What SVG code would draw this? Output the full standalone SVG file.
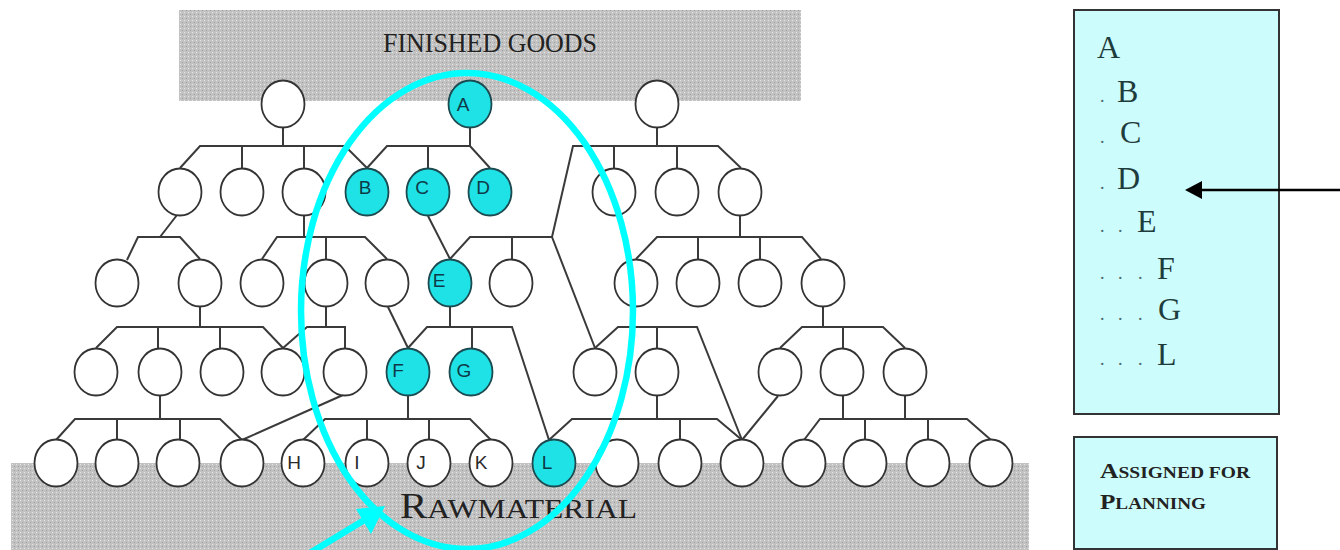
<svg xmlns="http://www.w3.org/2000/svg" width="1340" height="550" viewBox="0 0 1340 550">
<defs>
<pattern id="dots" width="4" height="4" patternUnits="userSpaceOnUse"><rect width="4" height="4" fill="#c2c2c2"/><rect width="1" height="1" fill="#e6e6e6"/><rect x="2" y="2" width="1" height="1" fill="#9c9c9c"/></pattern>
<style>
.n{fill:#fff;stroke:#333;stroke-width:1.8}
.h{fill:#1ee2e6;stroke:#1b4b50;stroke-width:1.8}
.lb{font-family:"Liberation Sans",Arial,sans-serif;font-size:19px;fill:#0e3a48;text-anchor:middle}
.lw{font-family:"Liberation Sans",Arial,sans-serif;font-size:19px;fill:#2a2a2a;text-anchor:middle}
.c{fill:none;stroke:#3a3a3a;stroke-width:2;stroke-linejoin:miter}
.ser{font-family:"Liberation Serif","Times New Roman",serif;fill:#222}
.lst{font-family:"Liberation Serif","Times New Roman",serif;font-size:32px;fill:#1f3c3c}
.dot{font-family:"Liberation Serif",serif;font-size:18px;fill:#4a6a6a}
</style>
</defs>
<rect width="1340" height="550" fill="#fff"/>
<g id="finished-goods">
<rect x="179" y="10" width="622" height="91" fill="url(#dots)"/>
<text class="ser" x="383" y="52" font-size="28" textLength="214" lengthAdjust="spacingAndGlyphs">FINISHED GOODS</text>
</g>
<g id="raw-material">
<rect x="11" y="463" width="1018" height="87" fill="url(#dots)"/>
<text class="ser" x="400" y="518" font-size="27" textLength="237" lengthAdjust="spacingAndGlyphs"><tspan font-size="35">R</tspan>AWMATERIAL</text>
</g>
<g id="connectors" class="c">
<path d="M283,128V146M180,168L200,146H345L367,168M242,146V168M304,146V168"/>
<path d="M470,128V146M367,168L387,146H470L490,168M428,146V168"/>
<path d="M657,128V146M741,168L718,146H573L552,237L595,348M614,146V168M677,146V168"/>
<path d="M177,215L160,237M127,260L138,237H180L200,259"/>
<path d="M304,216V237M262,259L277,237H365L387,259M326,237V259"/>
<path d="M428,216L450,259M450,259L470,237H552M512,237V259"/>
<path d="M740,216V237M636,259L657,237H802L821,259M698,237V259M760,237V259"/>
<path d="M200,307V327M96,348L117,327H263L283,348M158,327V348M220,327V348"/>
<path d="M326,307V327M283,348L307,327H345V348"/>
<path d="M388,307L408,348"/>
<path d="M450,307V327M408,348L427,327H512L549,440M472,327V348"/>
<path d="M595,348L618,327H697L742,440M657,327V348"/>
<path d="M823,307V327M780,348L802,327H883L905,348M843,327V348"/>
<path d="M160,396V419M56,440L75,419H220L242,440M117,419V440M180,419V440"/>
<path d="M343,395L242,440"/>
<path d="M408,396V419M303,440L325,419H470L491,440M367,419V440M429,419V440"/>
<path d="M549,440L572,419H717L742,440M657,396V419M680,419V440"/>
<path d="M778,396L742,440"/>
<path d="M843,396V419M905,396V419M804,440L820,419H967L991,440M865,419V440M928,419V440"/>
</g>
<g id="nodes">
<g id="n1a"><ellipse class="n" cx="283" cy="104" rx="21.5" ry="23.5"/></g>
<g id="nA"><ellipse class="h" cx="470" cy="104" rx="21.5" ry="23.5"/><text class="lb" x="463" y="111">A</text></g>
<g id="n1c"><ellipse class="n" cx="657" cy="104" rx="21.5" ry="23.5"/></g>

<g id="n2a"><ellipse class="n" cx="180" cy="192" rx="21.5" ry="23.5"/></g>
<g id="n2b"><ellipse class="n" cx="242" cy="192" rx="21.5" ry="23.5"/></g>
<g id="n2c"><ellipse class="n" cx="304" cy="192" rx="21.5" ry="23.5"/></g>
<g id="nB"><ellipse class="h" cx="367" cy="192" rx="21.5" ry="23.5"/><text class="lb" x="365" y="194">B</text></g>
<g id="nC"><ellipse class="h" cx="428" cy="192" rx="21.5" ry="23.5"/><text class="lb" x="422" y="194">C</text></g>
<g id="nD"><ellipse class="h" cx="490" cy="192" rx="21.5" ry="23.5"/><text class="lb" x="483" y="194">D</text></g>
<g id="n2g"><ellipse class="n" cx="614" cy="192" rx="21.5" ry="23.5"/></g>
<g id="n2h"><ellipse class="n" cx="677" cy="192" rx="21.5" ry="23.5"/></g>
<g id="n2i"><ellipse class="n" cx="740" cy="192" rx="21.5" ry="23.5"/></g>

<g id="n3a"><ellipse class="n" cx="117" cy="283" rx="21.5" ry="23.5"/></g>
<g id="n3b"><ellipse class="n" cx="200" cy="283" rx="21.5" ry="23.5"/></g>
<g id="n3c"><ellipse class="n" cx="262" cy="283" rx="21.5" ry="23.5"/></g>
<g id="n3d"><ellipse class="n" cx="326" cy="283" rx="21.5" ry="23.5"/></g>
<g id="n3e"><ellipse class="n" cx="387" cy="283" rx="21.5" ry="23.5"/></g>
<g id="nE"><ellipse class="h" cx="450" cy="283" rx="21.5" ry="23.5"/><text class="lb" x="439" y="287">E</text></g>
<g id="n3g"><ellipse class="n" cx="511" cy="283" rx="21.5" ry="23.5"/></g>
<g id="n3h"><ellipse class="n" cx="636" cy="283" rx="21.5" ry="23.5"/></g>
<g id="n3i"><ellipse class="n" cx="698" cy="283" rx="21.5" ry="23.5"/></g>
<g id="n3j"><ellipse class="n" cx="760" cy="283" rx="21.5" ry="23.5"/></g>
<g id="n3k"><ellipse class="n" cx="823" cy="283" rx="21.5" ry="23.5"/></g>

<g id="n4a"><ellipse class="n" cx="96" cy="372" rx="21.5" ry="23.5"/></g>
<g id="n4b"><ellipse class="n" cx="160" cy="372" rx="21.5" ry="23.5"/></g>
<g id="n4c"><ellipse class="n" cx="222" cy="372" rx="21.5" ry="23.5"/></g>
<g id="n4d"><ellipse class="n" cx="283" cy="372" rx="21.5" ry="23.5"/></g>
<g id="n4e"><ellipse class="n" cx="345" cy="372" rx="21.5" ry="23.5"/></g>
<g id="nF"><ellipse class="h" cx="408" cy="372" rx="21.5" ry="23.5"/><text class="lb" x="398" y="377">F</text></g>
<g id="nG"><ellipse class="h" cx="471" cy="372" rx="21.5" ry="23.5"/><text class="lb" x="464" y="377">G</text></g>
<g id="n4h"><ellipse class="n" cx="595" cy="372" rx="21.5" ry="23.5"/></g>
<g id="n4i"><ellipse class="n" cx="657" cy="372" rx="21.5" ry="23.5"/></g>
<g id="n4j"><ellipse class="n" cx="780" cy="372" rx="21.5" ry="23.5"/></g>
<g id="n4k"><ellipse class="n" cx="842" cy="372" rx="21.5" ry="23.5"/></g>
<g id="n4l"><ellipse class="n" cx="905" cy="372" rx="21.5" ry="23.5"/></g>

<g id="n5a"><ellipse class="n" cx="56" cy="463" rx="21.5" ry="23.5"/></g>
<g id="n5b"><ellipse class="n" cx="117" cy="463" rx="21.5" ry="23.5"/></g>
<g id="n5c"><ellipse class="n" cx="178" cy="463" rx="21.5" ry="23.5"/></g>
<g id="n5d"><ellipse class="n" cx="242" cy="463" rx="21.5" ry="23.5"/></g>
<g id="nH"><ellipse class="n" cx="303" cy="463" rx="21.5" ry="23.5"/><text class="lw" x="294" y="469">H</text></g>
<g id="nI"><ellipse class="n" cx="367" cy="463" rx="21.5" ry="23.5"/><text class="lw" x="357" y="469">I</text></g>
<g id="nJ"><ellipse class="n" cx="429" cy="463" rx="21.5" ry="23.5"/><text class="lw" x="421" y="469">J</text></g>
<g id="nK"><ellipse class="n" cx="491" cy="463" rx="21.5" ry="23.5"/><text class="lw" x="481" y="469">K</text></g>
<g id="nL"><ellipse class="h" cx="554" cy="463" rx="21.5" ry="23.5"/><text class="lb" x="547" y="469">L</text></g>
<g id="n5j"><ellipse class="n" cx="617" cy="463" rx="21.5" ry="23.5"/></g>
<g id="n5k"><ellipse class="n" cx="680" cy="463" rx="21.5" ry="23.5"/></g>
<g id="n5l"><ellipse class="n" cx="742" cy="463" rx="21.5" ry="23.5"/></g>
<g id="n5m"><ellipse class="n" cx="804" cy="463" rx="21.5" ry="23.5"/></g>
<g id="n5n"><ellipse class="n" cx="865" cy="463" rx="21.5" ry="23.5"/></g>
<g id="n5o"><ellipse class="n" cx="928" cy="463" rx="21.5" ry="23.5"/></g>
<g id="n5p"><ellipse class="n" cx="991" cy="463" rx="21.5" ry="23.5"/></g>
</g>
<g id="highlight">
<ellipse cx="467" cy="311" rx="166" ry="238" fill="none" stroke="#00ffff" stroke-width="6.5"/>
<line x1="310" y1="553" x2="366" y2="519" stroke="#00ffff" stroke-width="6.5"/>
<polygon points="385,506 356,509 371,534" fill="#00ffff"/>
</g>
<g id="list-box">
<rect x="1074" y="10" width="205" height="404" fill="#ccfcfc" stroke="#333" stroke-width="2"/>
<text class="lst" x="1097" y="58">A</text>
<text class="lst" y="102"><tspan class="dot" x="1100">.</tspan><tspan x="1117">B</tspan></text>
<text class="lst" y="143"><tspan class="dot" x="1100">.</tspan><tspan x="1120">C</tspan></text>
<text class="lst" y="189"><tspan class="dot" x="1100">.</tspan><tspan x="1117">D</tspan></text>
<text class="lst" y="232"><tspan class="dot" x="1100">.</tspan><tspan class="dot" x="1118">.</tspan><tspan x="1137">E</tspan></text>
<text class="lst" y="279"><tspan class="dot" x="1100">.</tspan><tspan class="dot" x="1118">.</tspan><tspan class="dot" x="1138">.</tspan><tspan x="1157">F</tspan></text>
<text class="lst" y="320"><tspan class="dot" x="1100">.</tspan><tspan class="dot" x="1118">.</tspan><tspan class="dot" x="1138">.</tspan><tspan x="1158">G</tspan></text>
<text class="lst" y="365"><tspan class="dot" x="1100">.</tspan><tspan class="dot" x="1118">.</tspan><tspan class="dot" x="1138">.</tspan><tspan x="1157">L</tspan></text>
</g>
<g id="legend-box">
<rect x="1074" y="437" width="203" height="112" fill="#ccfcfc" stroke="#333" stroke-width="2"/>
<text class="ser" x="1100" y="478" font-size="16" font-weight="bold" fill="#1f3c3c" textLength="150" lengthAdjust="spacingAndGlyphs"><tspan font-size="21">A</tspan>SSIGNED FOR</text>
<text class="ser" x="1100" y="509" font-size="16" font-weight="bold" fill="#1f3c3c" textLength="106" lengthAdjust="spacingAndGlyphs"><tspan font-size="21">P</tspan>LANNING</text>
</g>
<g id="pointer">
<line x1="1340" y1="190" x2="1198" y2="190" stroke="#000" stroke-width="2.5"/>
<polygon points="1185,190 1202,181 1202,199" fill="#000"/>
</g>
</svg>
